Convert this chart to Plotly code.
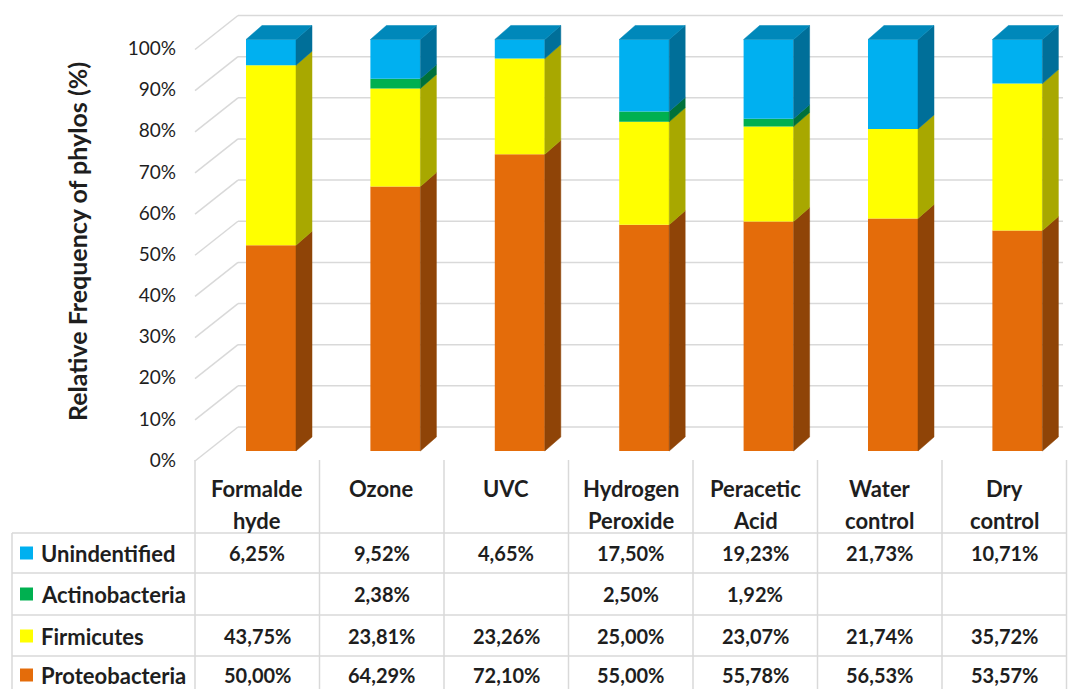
import plotly.graph_objects as go

# ---------------- data ----------------
cat_line1 = ["Formalde", "Ozone", "UVC", "Hydrogen", "Peracetic", "Water", "Dry"]
cat_line2 = ["hyde", "", "", "Peroxide", "Acid", "control", "control"]

proteobacteria = [50.00, 64.29, 72.10, 55.00, 55.78, 56.53, 53.57]
firmicutes = [43.75, 23.81, 23.26, 25.00, 23.07, 21.74, 35.72]
actinobacteria = [None, 2.38, None, 2.50, 1.92, None, None]
unidentified = [6.25, 9.52, 4.65, 17.50, 19.23, 21.73, 10.71]

y_ticks = [0, 10, 20, 30, 40, 50, 60, 70, 80, 90, 100]
y_title = "Relative Frequency of phylos (%)"

# stacking order bottom -> top
series = [
    ("Proteobacteria", proteobacteria, "#E46C0A", "#8F4407", None),
    ("Firmicutes", firmicutes, "#FFFF00", "#A8A800", None),
    ("Actinobacteria", actinobacteria, "#00B050", "#00713A", None),
    ("Unindentified", unidentified, "#00B0F0", "#006F99", "#0088BA"),
]
# table order top -> bottom
table_order = ["Unindentified", "Actinobacteria", "Firmicutes", "Proteobacteria"]

# ---------------- geometry (pixels) ----------------
W, H = 1071, 689
X0, DX = 271.0, 124.4      # px of first bar centre, px per category
Y0, DY = 451.0, 4.115      # px of 0 %, px per %
BW = 50.0 / DX             # bar width (data)
DEP_X = 16.0 / DX          # bar depth offset
DEP_Y = 14.0 / DY
BACK_DY = (Y0 - 427.0) / DY
FRONT_DY = (Y0 - 461.0) / DY
XL_FRONT = (195.0 - X0) / DX
XL_BACK = (238.0 - X0) / DX
XR_BACK = (1063.0 - X0) / DX

FONT = "Lato"
TXT = "#1e1e1e"
GRID = "#D9D9D9"


def px(x):
    return x / W


def py(y):
    return 1 - y / H


n = len(cat_line1)
xs = list(range(n))

fig = go.Figure()

# front faces
cum = [0.0] * n
bases = {}
for name, vals, col, side, top in series:
    v = [0.0 if a is None else a for a in vals]
    bases[name] = cum[:]
    fig.add_trace(go.Bar(x=xs, y=v, base=cum[:], width=BW, name=name,
                         marker=dict(color=col, line=dict(width=0)),
                         showlegend=False, hoverinfo="skip"))
    cum = [c + a for c, a in zip(cum, v)]

# side and top faces (pseudo 3D)
for name, vals, col, side, top in series:
    sx, sy, tx, ty = [], [], [], []
    for i in range(n):
        a = vals[i]
        if not a:
            continue
        b = bases[name][i]
        t = b + a
        xr = i + BW / 2
        sx += [xr, xr + DEP_X, xr + DEP_X, xr, xr, None]
        sy += [b, b + DEP_Y, t + DEP_Y, t, b, None]
        if top is not None:
            xl = i - BW / 2
            tx += [xl, xl + DEP_X, xr + DEP_X, xr, xl, None]
            ty += [t, t + DEP_Y, t + DEP_Y, t, t, None]
    fig.add_trace(go.Scatter(x=sx, y=sy, mode="lines", fill="toself",
                             fillcolor=side, line=dict(color=side, width=0.5),
                             showlegend=False, hoverinfo="skip"))
    if top is not None:
        fig.add_trace(go.Scatter(x=tx, y=ty, mode="lines", fill="toself",
                                 fillcolor=top, line=dict(color=top, width=0.5),
                                 showlegend=False, hoverinfo="skip"))

shapes = []
# back wall grid lines and side-wall diagonals
for v in y_ticks:
    shapes.append(dict(type="line", xref="x", yref="y", layer="below",
                       x0=XL_BACK, x1=XR_BACK, y0=v + BACK_DY, y1=v + BACK_DY,
                       line=dict(color=GRID, width=1.5)))
    shapes.append(dict(type="line", xref="x", yref="y", layer="below",
                       x0=XL_FRONT, x1=XL_BACK, y0=v + FRONT_DY, y1=v + BACK_DY,
                       line=dict(color=GRID, width=1.5)))

# data table
col_left = 195.0
col_w = 124.5
table_top = 460.0
row_lines = [533.0, 573.0, 615.0, 656.0]
row_centers = [553.0, 594.0, 636.0, 675.0]
for k in range(n + 1):
    x = col_left + col_w * k
    shapes.append(dict(type="line", xref="paper", yref="paper",
                       x0=px(x), x1=px(x), y0=py(table_top), y1=py(H + 5),
                       line=dict(color=GRID, width=1.5)))
shapes.append(dict(type="line", xref="paper", yref="paper",
                   x0=px(12), x1=px(12), y0=py(row_lines[0]), y1=py(H + 5),
                   line=dict(color=GRID, width=1.5)))
for y in row_lines:
    shapes.append(dict(type="line", xref="paper", yref="paper",
                       x0=px(12), x1=px(col_left + col_w * n), y0=py(y), y1=py(y),
                       line=dict(color=GRID, width=1.5)))

LABEL_FONT = dict(family=FONT, size=22, color=TXT, weight="bold")
VALUE_FONT = dict(family=FONT, size=20, color=TXT, weight="bold")

annotations = []
colors = {s[0]: s[2] for s in series}
values = {s[0]: s[1] for s in series}
for r, name in enumerate(table_order):
    yc = row_centers[r]
    shapes.append(dict(type="rect", xref="paper", yref="paper",
                       x0=px(20), x1=px(33), y0=py(yc - 6.5), y1=py(yc + 6.5),
                       fillcolor=colors[name], line=dict(width=0)))
    annotations.append(dict(x=px(39), y=py(yc), xref="paper", yref="paper",
                            text=name, showarrow=False, xanchor="left", yanchor="middle",
                            font=LABEL_FONT))
    for i in range(n):
        v = values[name][i]
        if v is None:
            continue
        annotations.append(dict(x=px(col_left + col_w * (i + 0.5)), y=py(yc),
                                xref="paper", yref="paper",
                                text=f"{v:.2f}%".replace(".", ","), showarrow=False,
                                xanchor="center", yanchor="middle", font=VALUE_FONT))

for i in range(n):
    xc = px(col_left + col_w * (i + 0.5))
    annotations.append(dict(x=xc, y=py(488), xref="paper", yref="paper", text=cat_line1[i],
                            showarrow=False, xanchor="center", yanchor="middle",
                            font=LABEL_FONT))
    if cat_line2[i]:
        annotations.append(dict(x=xc, y=py(520), xref="paper", yref="paper", text=cat_line2[i],
                                showarrow=False, xanchor="center", yanchor="middle",
                                font=LABEL_FONT))

annotations.append(dict(x=px(77), y=py(242), xref="paper", yref="paper", text=y_title,
                        textangle=-90, showarrow=False, xanchor="center", yanchor="middle",
                        font=dict(family=FONT, size=25, color=TXT, weight="bold")))

fig.update_layout(
    width=W, height=H, autosize=False,
    margin=dict(l=0, r=0, t=0, b=0),
    paper_bgcolor="white", plot_bgcolor="white",
    barmode="overlay", showlegend=False,
    shapes=shapes, annotations=annotations,
    xaxis=dict(range=[-X0 / DX, (W - X0) / DX], domain=[0, 1], visible=False, fixedrange=True),
    yaxis=dict(range=[(Y0 - H) / DY, Y0 / DY], domain=[0, 1], anchor="free", position=px(176),
               tickvals=y_ticks, ticktext=[f"{v}%" for v in y_ticks],
               showgrid=False, zeroline=False, showline=False, ticks="",
               ticklabelshift=9, ticklabelstandoff=0,
               tickfont=dict(family=FONT, size=19, color=TXT), fixedrange=True),
)

fig.write_html("out.html")
